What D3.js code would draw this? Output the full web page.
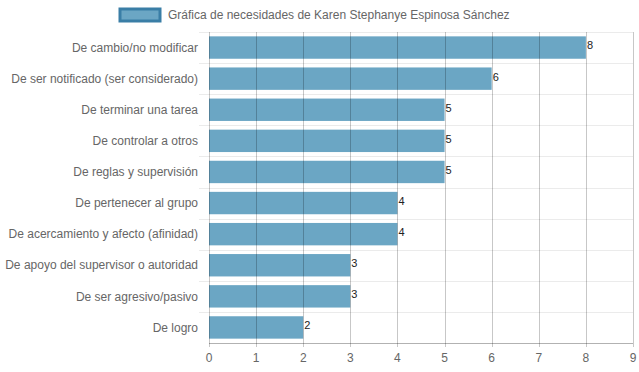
<!DOCTYPE html>
<html>
<head>
<meta charset="utf-8">
<script src="https://cdn.jsdelivr.net/npm/d3@7"></script>
<style>
  body { margin: 0; background: #fff; }
  text { font-family: "Liberation Sans", Arial, sans-serif; }
</style>
</head>
<body>
<script>
// chart data
var categories = [
  "De cambio/no modificar",
  "De ser notificado (ser considerado)",
  "De terminar una tarea",
  "De controlar a otros",
  "De reglas y supervisión",
  "De pertenecer al grupo",
  "De acercamiento y afecto (afinidad)",
  "De apoyo del supervisor o autoridad",
  "De ser agresivo/pasivo",
  "De logro"
];
var values = [8, 6, 5, 5, 5, 4, 4, 3, 3, 2];
var xTicks = [0, 1, 2, 3, 4, 5, 6, 7, 8, 9];
var seriesName = "Gráfica de necesidades de Karen Stephanye Espinosa Sánchez";

var width = 639, height = 372;
var margin = {top: 32, right: 6, bottom: 29, left: 209};

var svg = d3.select("body").append("svg")
    .attr("width", width)
    .attr("height", height);

var x = d3.scaleLinear()
    .domain([0, 9])
    .range([margin.left, width - margin.right]);

var y = d3.scaleBand()
    .domain(categories)
    .range([margin.top, height - margin.bottom]);

var bandInner = y.bandwidth() * 0.72;

// horizontal light grid lines (band edges)
var edges = categories.map(function(c) { return y(c); });
edges.push(height - margin.bottom);
svg.append("g").selectAll("line")
    .data(edges.slice(0, -1))
  .enter().append("line")
    .attr("x1", margin.left - 10)
    .attr("x2", width - margin.right)
    .attr("y1", function(d) { return Math.round(d) + 0.5; })
    .attr("y2", function(d) { return Math.round(d) + 0.5; })
    .attr("stroke", "rgba(0,0,0,0.08)");

// bars
svg.append("g").selectAll("rect")
    .data(values)
  .enter().append("rect")
    .attr("x", x(0))
    .attr("y", function(d, i) { return y(categories[i]) + (y.bandwidth() - bandInner) / 2; })
    .attr("width", function(d) { return x(d) - x(0); })
    .attr("height", bandInner)
    .attr("fill", "#6ba6c4");

// vertical grid lines over the bars
svg.append("g").selectAll("line")
    .data(xTicks)
  .enter().append("line")
    .attr("x1", function(d) { return Math.round(x(d)) + 0.5; })
    .attr("x2", function(d) { return Math.round(x(d)) + 0.5; })
    .attr("y1", margin.top)
    .attr("y2", height - margin.bottom + 4)
    .attr("stroke", "rgba(0,0,0,0.22)");

// x axis line
svg.append("line")
    .attr("x1", margin.left)
    .attr("x2", width - margin.right)
    .attr("y1", height - margin.bottom + 0.5)
    .attr("y2", height - margin.bottom + 0.5)
    .attr("stroke", "rgba(0,0,0,0.3)");

// x tick labels
svg.append("g").selectAll("text")
    .data(xTicks)
  .enter().append("text")
    .attr("x", function(d) { return x(d); })
    .attr("y", height - margin.bottom + 19)
    .attr("text-anchor", "middle")
    .attr("font-size", 12)
    .attr("fill", "#666")
    .text(function(d) { return d; });

// y labels
svg.append("g").selectAll("text")
    .data(categories)
  .enter().append("text")
    .attr("x", margin.left - 11)
    .attr("y", function(d) { return y(d) + y.bandwidth() / 2; })
    .attr("dy", "0.35em")
    .attr("text-anchor", "end")
    .attr("font-size", 12)
    .attr("fill", "#666")
    .text(function(d) { return d; });

// value labels
svg.append("g").selectAll("text")
    .data(values)
  .enter().append("text")
    .attr("x", function(d) { return x(d) + 1; })
    .attr("y", function(d, i) { return y(categories[i]) + y.bandwidth() / 2 - 2; })
    .attr("dy", "0.35em")
    .attr("font-size", 11)
    .attr("fill", "#222")
    .text(function(d) { return d; });

// legend
svg.append("rect")
    .attr("x", 120)
    .attr("y", 9)
    .attr("width", 40)
    .attr("height", 12)
    .attr("fill", "#6ba6c4")
    .attr("stroke", "#3a7ea6")
    .attr("stroke-width", 3);

svg.append("text")
    .attr("x", 168)
    .attr("y", 15)
    .attr("dy", "0.35em")
    .attr("font-size", 12)
    .attr("fill", "#666")
    .text(seriesName);
</script>
</body>
</html>
